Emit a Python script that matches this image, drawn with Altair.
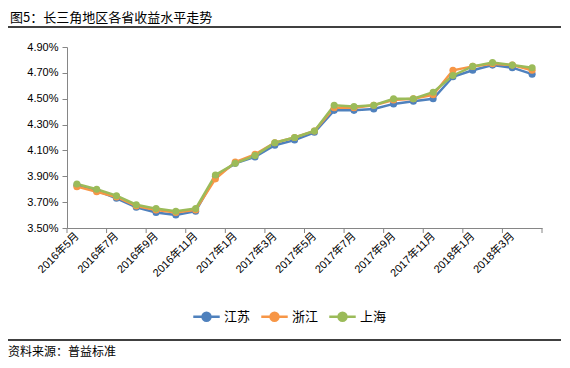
import altair as alt
import pandas as pd

months = ["2016年5月", "2016年6月", "2016年7月", "2016年8月", "2016年9月", "2016年10月",
          "2016年11月", "2016年12月", "2017年1月", "2017年2月", "2017年3月", "2017年4月",
          "2017年5月", "2017年6月", "2017年7月", "2017年8月", "2017年9月", "2017年10月",
          "2017年11月", "2017年12月", "2018年1月", "2018年2月", "2018年3月", "2018年4月"]
jiangsu = [3.83, 3.79, 3.73, 3.66, 3.62, 3.60, 3.63, 3.90, 4.00, 4.05, 4.14, 4.18,
           4.24, 4.41, 4.41, 4.42, 4.46, 4.48, 4.50, 4.67, 4.72, 4.76, 4.74, 4.69]
zhejiang = [3.82, 3.78, 3.74, 3.67, 3.64, 3.62, 3.64, 3.88, 4.01, 4.07, 4.16, 4.20,
            4.25, 4.43, 4.43, 4.45, 4.49, 4.50, 4.53, 4.72, 4.75, 4.77, 4.76, 4.72]
shanghai = [3.84, 3.80, 3.75, 3.68, 3.65, 3.63, 3.65, 3.91, 4.00, 4.06, 4.16, 4.20,
            4.25, 4.45, 4.44, 4.45, 4.50, 4.50, 4.55, 4.68, 4.75, 4.78, 4.76, 4.74]
series = ["江苏", "浙江", "上海"]
colors = ["#4F81BD", "#F79646", "#9BBB59"]
y_ticks = [3.5, 3.7, 3.9, 4.1, 4.3, 4.5, 4.7, 4.9]
title_text = "图5：长三角地区各省收益水平走势"
source_text = "资料来源：普益标准"

rows = []
for name, vals in zip(series, [jiangsu, zhejiang, shanghai]):
    for i, (m, v) in enumerate(zip(months, vals)):
        rows.append({"idx": i, "month": m, "series": name, "value": v})
df = pd.DataFrame(rows)

boundaries = pd.DataFrame({"b": [k - 0.5 for k in range(0, 25, 2)]})

W, H = 475, 181
FONT = "Liberation Sans, Noto Sans CJK SC"
CJK = "Noto Sans CJK SC"
label_arr = "[" + ",".join('"' + m + '"' for m in months) + "]"

x_scale = alt.Scale(domain=[-0.5, 23.5], nice=False, zero=False)
y_scale = alt.Scale(domain=[3.5, 4.9], nice=False, zero=False)

legend_path = "M-1,0L1,0M-0.3,0A0.3,0.3,0,1,0,0.3,0A0.3,0.3,0,1,0,-0.3,0Z"

lines = alt.Chart(df).mark_line(
    strokeWidth=2.5,
    point=alt.OverlayMarkDef(filled=True, size=50, opacity=1),
).encode(
    x=alt.X("idx:Q", scale=x_scale, axis=alt.Axis(
        values=list(range(0, 24, 2)),
        labelExpr=label_arr + "[datum.value]",
        labelAngle=315, labelAlign="right", labelBaseline="middle",
        labelFont=FONT, labelFontSize=11, labelColor="#000000", labelPadding=6,
        ticks=False, domain=True, domainColor="#868686", grid=False, title=None,
        labelOverlap=False)),
    y=alt.Y("value:Q", scale=y_scale, axis=alt.Axis(
        values=y_ticks,
        labelExpr="format(datum.value, '.2f') + '%'",
        labelFont=FONT, labelFontSize=11, labelColor="#000000", labelPadding=4,
        ticks=True, tickSize=5, tickColor="#868686", domainColor="#868686",
        grid=False, title=None)),
    color=alt.Color("series:N", scale=alt.Scale(domain=series, range=colors),
                    legend=alt.Legend(
                        title=None, orient="none", direction="horizontal",
                        legendX=125, legendY=255,
                        symbolType=legend_path, symbolSize=700, symbolStrokeWidth=2.5,
                        labelFont=CJK, labelFontSize=13, labelColor="#000000",
                        labelOffset=3, columnPadding=5)),
)

xticks = alt.Chart(boundaries).mark_rule(color="#868686", strokeWidth=1).encode(
    x=alt.X("b:Q", scale=x_scale),
    y=alt.value(H), y2=alt.value(H + 5),
)

one = pd.DataFrame({"a": [0]})
title = alt.Chart(pd.DataFrame({"t": [title_text]})).mark_text(
    align="left", baseline="middle", font=CJK, fontSize=13, color="#000000"
).encode(text="t:N", x=alt.value(-57), y=alt.value(-29))
top_line = alt.Chart(one).mark_rule(color="#000000", strokeWidth=1.5).encode(
    x=alt.value(-59), x2=alt.value(494), y=alt.value(-20))
bottom_line = alt.Chart(one).mark_rule(color="#000000", strokeWidth=1.5).encode(
    x=alt.value(-59), x2=alt.value(494), y=alt.value(293))
source = alt.Chart(pd.DataFrame({"t": [source_text]})).mark_text(
    align="left", baseline="middle", font=CJK, fontSize=12, color="#000000"
).encode(text="t:N", x=alt.value(-59), y=alt.value(305))

chart = alt.layer(lines, xticks, title, top_line, bottom_line, source).properties(
    width=W, height=H,
    autosize=alt.AutoSizeParams(type="none"),
    padding={"left": 59, "top": 39, "right": 20, "bottom": 132},
).configure_view(stroke=None)

chart.save("out.html", embed_options={"renderer": "svg", "actions": False})
